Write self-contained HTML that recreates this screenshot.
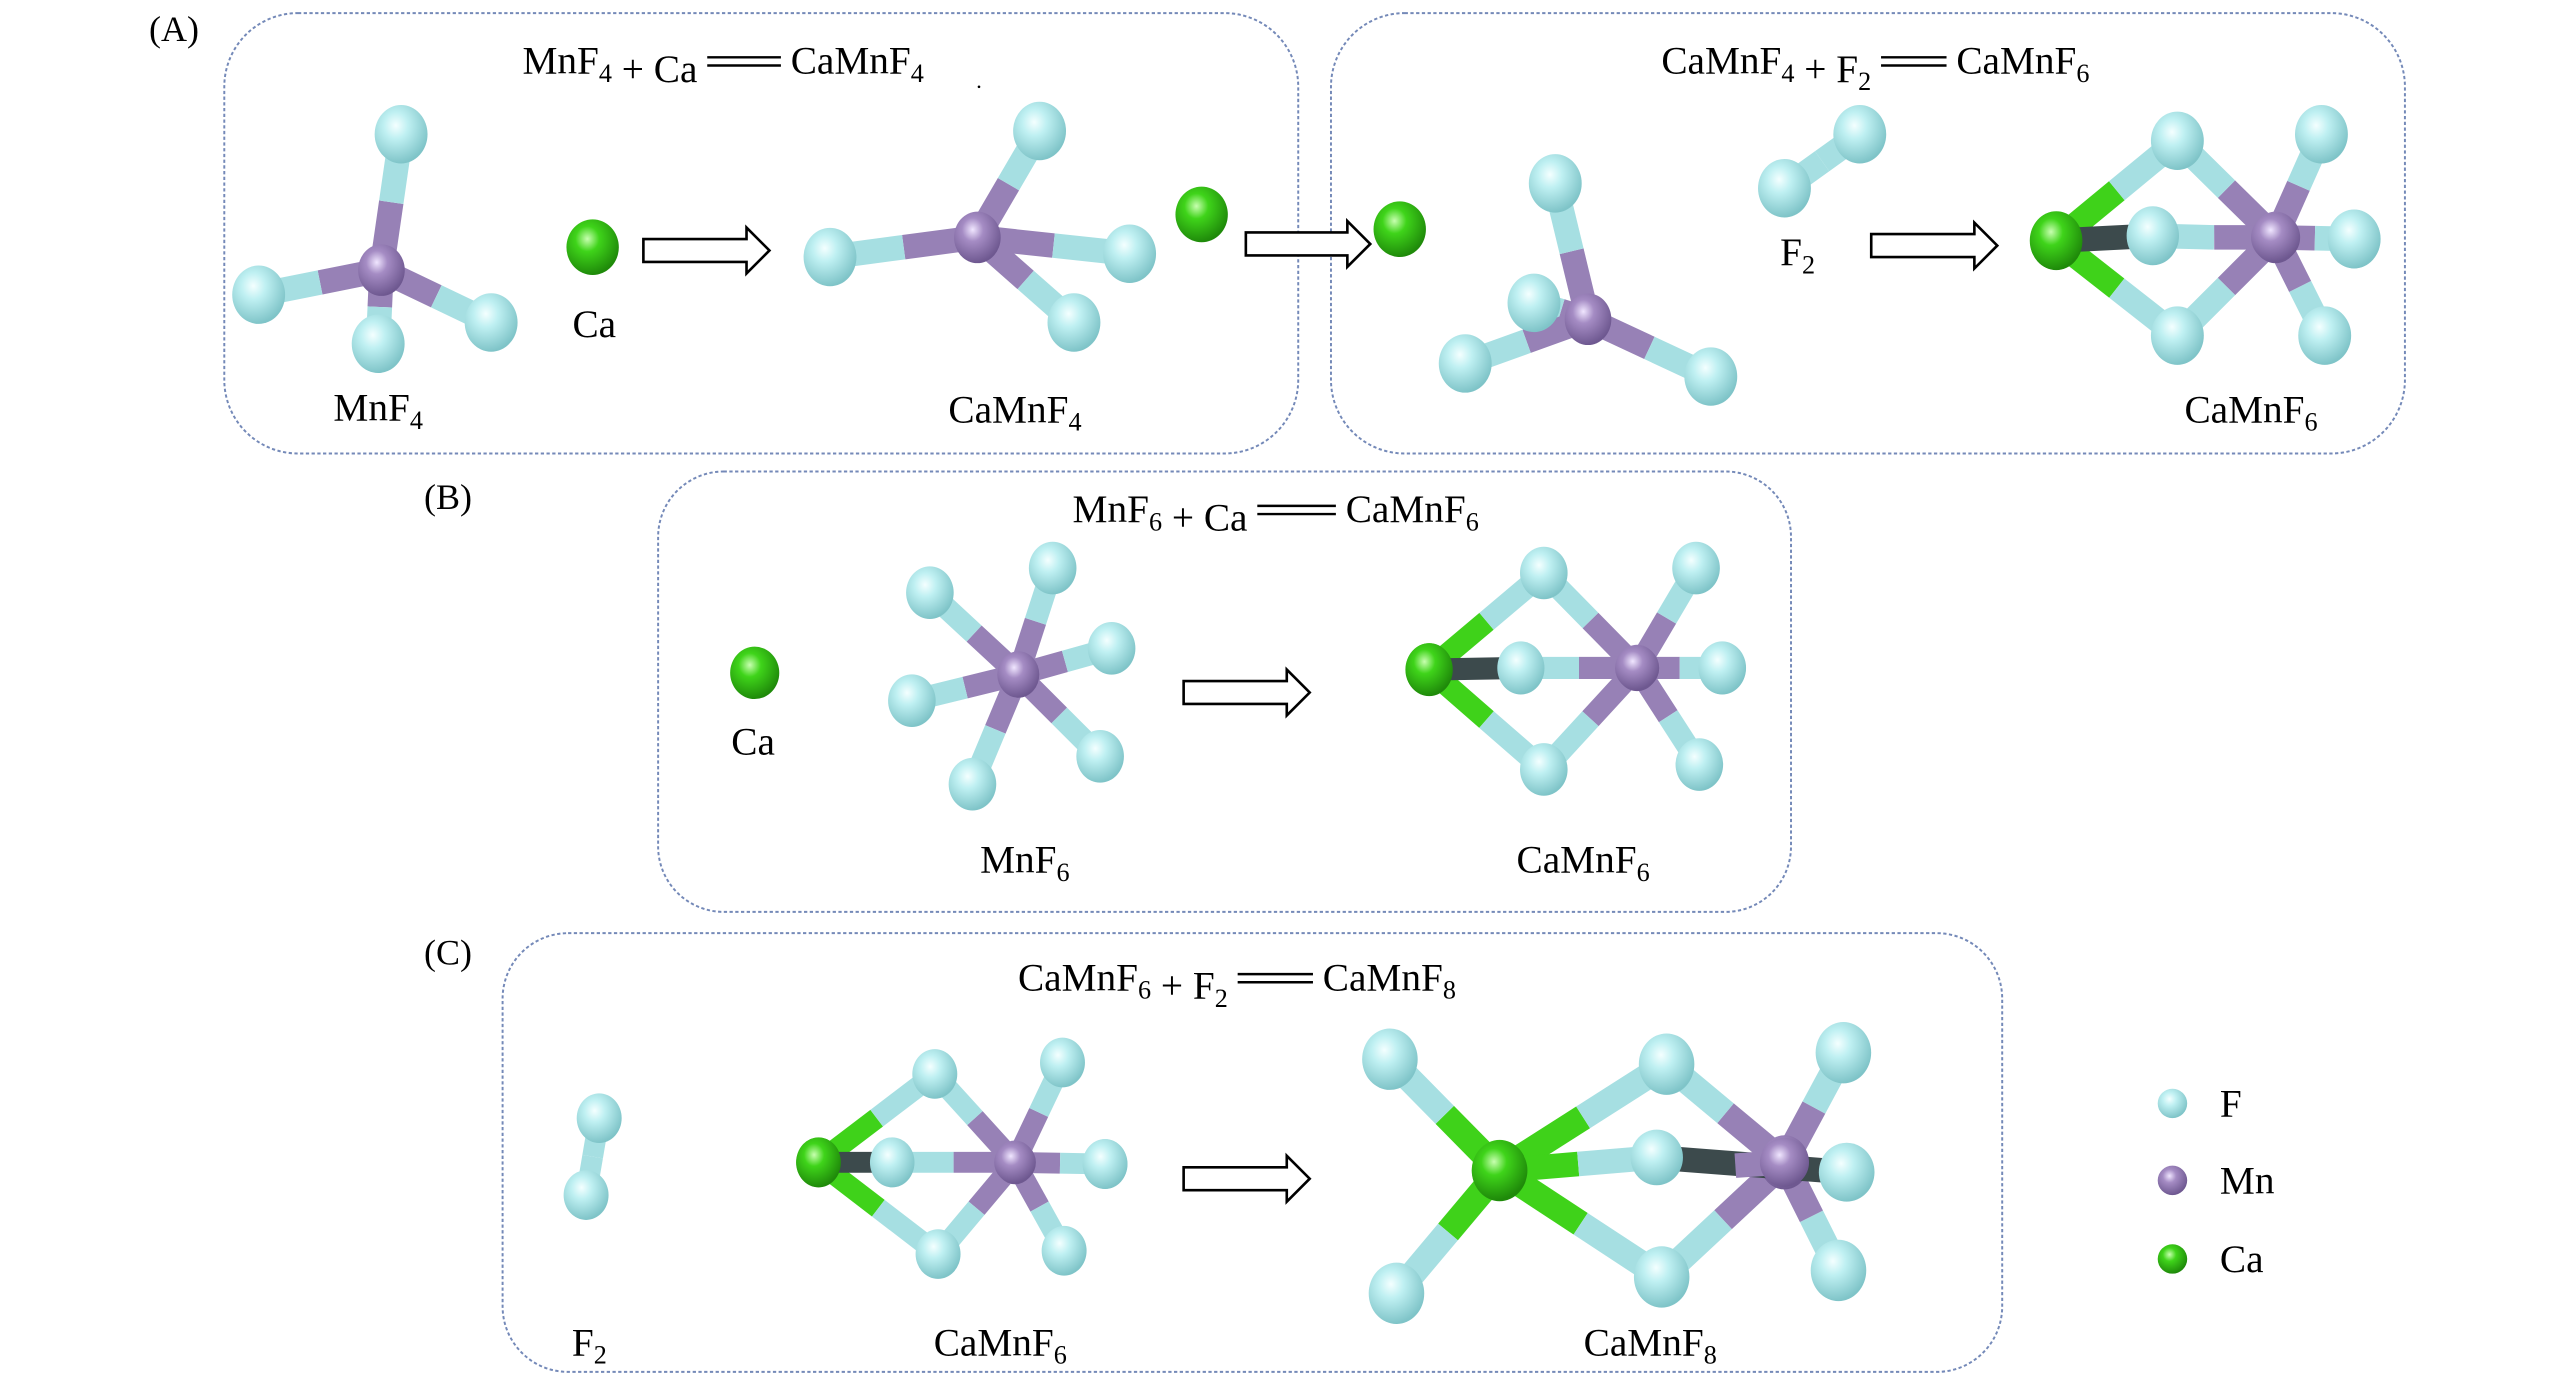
<!DOCTYPE html>
<html><head><meta charset="utf-8"><style>
html,body{margin:0;padding:0;background:#fff;}
svg{display:block;}
text{font-family:"Liberation Serif",serif;fill:#000;}
</style></head><body>
<svg id="s" width="2567" height="1386" viewBox="0 0 1568 846.6" xmlns="http://www.w3.org/2000/svg">
<defs>
<radialGradient id="gF" cx="40%" cy="35%" r="65%"><stop offset="0" stop-color="#f4ffff"/><stop offset="0.35" stop-color="#bff0f2"/><stop offset="1" stop-color="#7fc4c8"/></radialGradient>
<radialGradient id="gMn" cx="40%" cy="35%" r="65%"><stop offset="0" stop-color="#f0e6ff"/><stop offset="0.35" stop-color="#a58cc4"/><stop offset="1" stop-color="#6e5890"/></radialGradient>
<radialGradient id="gCa" cx="40%" cy="35%" r="65%"><stop offset="0" stop-color="#c8ffb0"/><stop offset="0.35" stop-color="#3fd41a"/><stop offset="1" stop-color="#1f8a0a"/></radialGradient>
</defs>
<g fill="none" stroke="#7489b8" stroke-width="1.2" stroke-dasharray="2,1.5">
<rect x="137" y="8" width="656" height="269" rx="45"/>
<rect x="813" y="8" width="656" height="269" rx="45"/>
<rect x="402" y="288" width="692" height="269" rx="40"/>
<rect x="307" y="570" width="916" height="268" rx="40"/>
</g>
<g font-size="22">
<text x="91" y="25">(A)</text>
<text x="259" y="311">(B)</text>
<text x="259" y="589">(C)</text>
</g>
<g id="mol"></g>
<g font-size="24" text-anchor="middle" id="labels"></g>
<g stroke="#000" stroke-width="1.6" fill="#fff" id="arrows"></g>
<g font-size="24">
<text x="1356" y="682">F</text>
<text x="1356" y="729">Mn</text>
<text x="1356" y="777">Ca</text>
</g>
<circle cx="1327" cy="674" r="9" fill="url(#gF)"/>
<circle cx="1327" cy="721" r="9" fill="url(#gMn)"/>
<circle cx="1327" cy="769" r="9" fill="url(#gCa)"/>
<circle cx="598" cy="53" r="0.8" fill="#000"/>
</svg>
<script>
var NS="http://www.w3.org/2000/svg";
var mol=document.getElementById('mol');
var col={F:"#a6dfe2",Mn:"#9781b6",Ca:"#3fd21a",D:"#3c4a4c"};
var grad={F:"url(#gF)",Mn:"url(#gMn)",Ca:"url(#gCa)"};
var rad={F:17,Mn:15,Ca:17};
var BW=15;
function el(t,a,p){var e=document.createElementNS(NS,t);for(var k in a)e.setAttribute(k,a[k]);(p||mol).appendChild(e);return e;}
function line(x1,y1,x2,y2,c,w){el('line',{x1:x1,y1:y1,x2:x2,y2:y2,stroke:c,'stroke-width':w});}
function M(atoms,bonds,s){
  s=s||1;
  bonds.forEach(function(b){var a=atoms[b[0]],c=atoms[b[1]];var mx=(a[1]+c[1])/2,my=(a[2]+c[2])/2;
    line(a[1],a[2],mx,my,col[a[0]],BW*s);line(mx,my,c[1],c[2],col[c[0]],BW*s);});
  atoms.forEach(function(a){el('ellipse',{cx:a[1],cy:a[2],rx:rad[a[0]]*s*0.95,ry:rad[a[0]]*s*1.05,fill:grad[a[0]]});});
}
function star(mn,fs,s){var at=[["Mn",mn[0],mn[1]]];var b=[];fs.forEach(function(f,i){at.push(["F",f[0],f[1]]);b.push([0,i+1]);});M(at,b,s);}
star([233,165],[[245,82],[158,180],[300,197],[231,210]],1);
el('ellipse',{cx:362,cy:151,rx:16,ry:17,fill:grad.Ca});
star([597,145],[[635,80],[507,157],[690,155],[656,197]],1);
el('ellipse',{cx:734,cy:131,rx:16,ry:17,fill:grad.Ca});
el('ellipse',{cx:855,cy:140,rx:16,ry:17,fill:grad.Ca});
star([970,195],[[937,185],[950,112],[895,222],[1045,230]],1);
M([["F",1136,82],["F",1090,115]],[[0,1]],1);
function camnf6(ca,mn,ft,fb,ff,o1,o2,o3,s){
  M([["Ca",ca[0],ca[1]],["Mn",mn[0],mn[1]],["F",ft[0],ft[1]],["F",fb[0],fb[1]],["F",o1[0],o1[1]],["F",o2[0],o2[1]],["F",o3[0],o3[1]]],
    [[0,2],[0,3],[1,2],[1,3],[1,4],[1,5],[1,6]],s);
  var mx=(ff[0]+mn[0])/2;
  line(ca[0],ca[1],ff[0],ff[1],col.D,BW*s);
  line(ff[0],ff[1],mx,mn[1],col.F,BW*s);
  line(mx,mn[1],mn[0],mn[1],col.Mn,BW*s);
  el('ellipse',{cx:ca[0],cy:ca[1],rx:16*s,ry:18*s,fill:grad.Ca});
  el('ellipse',{cx:ff[0],cy:ff[1],rx:16*s,ry:18*s,fill:grad.F});
  el('ellipse',{cx:mn[0],cy:mn[1],rx:15*s,ry:15*s,fill:grad.Mn});
  el('ellipse',{cx:o2[0],cy:o2[1],rx:16*s,ry:18*s,fill:grad.F});
}
camnf6([1256,147],[1390,145],[1330,86],[1330,205],[1315,144],[1418,82],[1438,146],[1420,205],1);
el('ellipse',{cx:461,cy:411,rx:15,ry:16,fill:grad.Ca});
star([622,412],[[643,347],[568,362],[679,396],[557,428],[672,462],[594,479]],0.9);
camnf6([873,409],[1000,408],[943,350],[943,470],[929,408],[1036,347],[1052,408],[1038,467],0.9);
M([["F",366,683],["F",358,730]],[[0,1]],0.85);
camnf6([500,710],[620,710],[571,656],[573,766],[545,710],[649,649],[675,711],[650,764],0.85);
M([["Ca",916,715],["Mn",1090,710],["F",849,647],["F",853,790],["F",1018,650],["F",1015,780],["F",1126,643],["F",1123,776]],
  [[0,2],[0,3],[0,4],[0,5],[1,4],[1,5],[1,6],[1,7]],1.05);
line(916,715,964,711,col.Ca,BW);line(964,711,1012,707,col.F,BW);line(1012,707,1128,716,col.D,BW);line(1060,712,1090,710,col.Mn,BW);
el('ellipse',{cx:1012,cy:707,rx:16,ry:17,fill:grad.F});
el('ellipse',{cx:916,cy:715,rx:17,ry:18,fill:grad.Ca});
el('ellipse',{cx:1090,cy:710,rx:15,ry:15,fill:grad.Mn});
el('ellipse',{cx:1128,cy:716,rx:17,ry:18,fill:grad.F});
var ar=document.getElementById('arrows');
function arrow(x1,x2,y){var h=7,H=14,hl=14;
  el('path',{d:"M"+x1+","+(y-h)+"L"+(x2-hl)+","+(y-h)+"L"+(x2-hl)+","+(y-H)+"L"+x2+","+y+"L"+(x2-hl)+","+(y+H)+"L"+(x2-hl)+","+(y+h)+"L"+x1+","+(y+h)+"Z"},ar);}
arrow(393,470,153);arrow(761,837,149);arrow(1143,1220,150);arrow(723,800,423);arrow(723,800,720);
var L=document.getElementById('labels');
function lab(x,y,html){var t=el('text',{x:x,y:y},L);t.innerHTML=html;return t;}
function sb(n){return '<tspan font-size="16" dy="5">'+n+'</tspan><tspan dy="-5"></tspan>';}
lab(363,206,"Ca");lab(231,257,"MnF"+sb(4));lab(620,258,"CaMnF"+sb(4));
lab(1098,162,"F"+sb(2));lab(1375,258,"CaMnF"+sb(6));
lab(460,461,"Ca");lab(626,533,"MnF"+sb(6));lab(967,533,"CaMnF"+sb(6));
lab(360,828,"F"+sb(2));lab(611,828,"CaMnF"+sb(6));lab(1008,828,"CaMnF"+sb(8));
// equations: left part, double line, right part
function eq(y,left,lx2,right,rx1){
  var a=el('text',{x:lx2,y:y,'text-anchor':'end'},L);a.innerHTML=left;
  var b=el('text',{x:rx1,y:y,'text-anchor':'start'},L);b.innerHTML=right;
  line(lx2+6,y-10,rx1-6,y-10,"#000",1.5);line(lx2+6,y-5,rx1-6,y-5,"#000",1.5);
  L.appendChild(mol.lastChild.previousSibling);L.appendChild(mol.lastChild);
}
eq(45,"MnF"+sb(4)+" + Ca",426,"CaMnF"+sb(4),483);
eq(45,"CaMnF"+sb(4)+" + F"+sb(2),1143,"CaMnF"+sb(6),1195);
eq(319,"MnF"+sb(6)+" + Ca",762,"CaMnF"+sb(6),822);
eq(605,"CaMnF"+sb(6)+" + F"+sb(2),750,"CaMnF"+sb(8),808);
</script>
</body></html>
